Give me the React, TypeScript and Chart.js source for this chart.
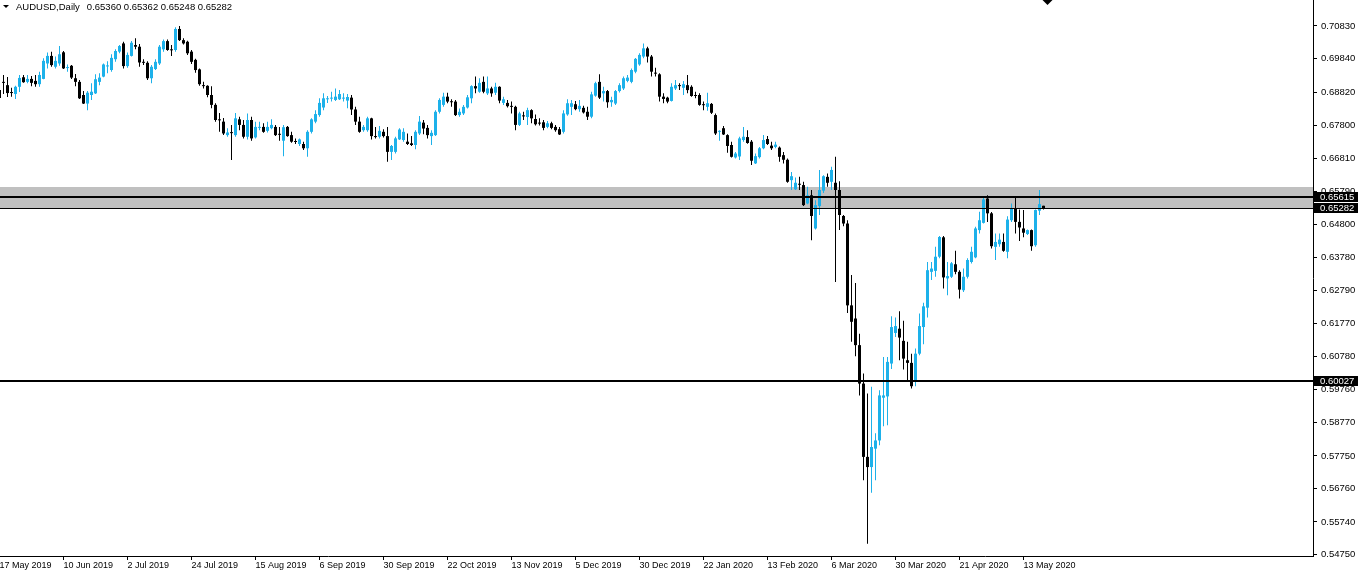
import { useEffect, useRef } from 'react';
import { Chart, registerables } from 'chart.js';

Chart.register(...registerables);

const symbolName = 'AUDUSD,Daily';
const lastBarValues = ['0.65360', '0.65362', '0.65248', '0.65282'];

const openPrices = [
  0.6888, 0.6913, 0.6903, 0.6881, 0.6876, 0.6898, 0.6927, 0.6913, 0.6922, 0.6916,
  0.6906, 0.6922, 0.6969, 0.6992, 0.6959, 0.6969, 0.7003, 0.6955, 0.6962, 0.6924,
  0.6913, 0.6873, 0.6847, 0.6873, 0.6878, 0.6913, 0.6929, 0.6960, 0.6949, 0.6982,
  0.7005, 0.7030, 0.6961, 0.6992, 0.7025, 0.7020, 0.6972, 0.6971, 0.6924, 0.6952,
  0.6969, 0.7012, 0.7037, 0.7011, 0.7010, 0.7074, 0.7040, 0.7035, 0.7005, 0.6980,
  0.6951, 0.6902, 0.6901, 0.6873, 0.6843, 0.6798, 0.6792, 0.6751, 0.6759, 0.6751,
  0.6799, 0.6782, 0.6746, 0.6797, 0.6744, 0.6773, 0.6776, 0.6764, 0.6772, 0.6776,
  0.6754, 0.6734, 0.6776, 0.6751, 0.6732, 0.6724, 0.6724, 0.6711, 0.6761, 0.6792,
  0.6812, 0.6835, 0.6860, 0.6862, 0.6858, 0.6860, 0.6862, 0.6856, 0.6865, 0.6829,
  0.6792, 0.6766, 0.6766, 0.6802, 0.6747, 0.6746, 0.6761, 0.6748, 0.6700, 0.6700,
  0.6738, 0.6736, 0.6731, 0.6726, 0.6721, 0.6756, 0.6789, 0.6773, 0.6748, 0.6751,
  0.6822, 0.6843, 0.6868, 0.6854, 0.6853, 0.6812, 0.6817, 0.6835, 0.6863, 0.6900,
  0.6883, 0.6913, 0.6878, 0.6893, 0.6880, 0.6898, 0.6849, 0.6849, 0.6839, 0.6837,
  0.6782, 0.6810, 0.6806, 0.6827, 0.6800, 0.6788, 0.6790, 0.6776, 0.6787, 0.6776,
  0.6769, 0.6761, 0.6814, 0.6837, 0.6845, 0.6830, 0.6834, 0.6822, 0.6807, 0.6871,
  0.6913, 0.6878, 0.6885, 0.6851, 0.6847, 0.6885, 0.6893, 0.6916, 0.6913, 0.6944,
  0.6966, 0.6990, 0.7015, 0.6990, 0.6940, 0.6936, 0.6868, 0.6865, 0.6855, 0.6893,
  0.6902, 0.6895, 0.6903, 0.6898, 0.6872, 0.6873, 0.6843, 0.6837, 0.6846, 0.6812,
  0.6761, 0.6772, 0.6751, 0.6721, 0.6683, 0.6686, 0.6736, 0.6745, 0.6731, 0.6665,
  0.6684, 0.6711, 0.6739, 0.6719, 0.6715, 0.6713, 0.6690, 0.6676, 0.6614, 0.6586,
  0.6602, 0.6599, 0.6543, 0.6568, 0.6467, 0.6535, 0.6582, 0.6624, 0.6609, 0.6606,
  0.6584, 0.6505, 0.6482, 0.6233, 0.6193, 0.6112, 0.5995, 0.5772, 0.5741, 0.5797,
  0.5822, 0.5952, 0.5956, 0.6056, 0.6149, 0.6162, 0.6125, 0.6066, 0.6058, 0.6005,
  0.6086, 0.6167, 0.6226, 0.6335, 0.6338, 0.6381, 0.6440, 0.6315, 0.6320, 0.6358,
  0.6335, 0.6279, 0.6320, 0.6365, 0.6379, 0.6462, 0.6484, 0.6558, 0.6513, 0.6411,
  0.6419, 0.6426, 0.6396, 0.6492, 0.6528, 0.6487, 0.6467, 0.6450, 0.6462, 0.6416,
  0.6521, 0.6536,
];

const highPrices = [
  0.6897, 0.6934, 0.6928, 0.6895, 0.6901, 0.6934, 0.6934, 0.6934, 0.6931, 0.6934,
  0.6944, 0.6985, 0.7002, 0.7005, 0.6990, 0.7022, 0.7007, 0.6966, 0.6964, 0.6937,
  0.6919, 0.6885, 0.6885, 0.6909, 0.6936, 0.6939, 0.6969, 0.6976, 0.6997, 0.7012,
  0.7025, 0.7035, 0.7002, 0.7037, 0.7046, 0.7028, 0.6982, 0.6976, 0.6964, 0.6982,
  0.7025, 0.7042, 0.7042, 0.7025, 0.7079, 0.7083, 0.7046, 0.7038, 0.7010, 0.6983,
  0.6954, 0.6913, 0.6903, 0.6900, 0.6848, 0.6818, 0.6803, 0.6772, 0.6782, 0.6818,
  0.6807, 0.6797, 0.6817, 0.6807, 0.6792, 0.6792, 0.6787, 0.6792, 0.6799, 0.6782,
  0.6776, 0.6782, 0.6779, 0.6761, 0.6741, 0.6741, 0.6731, 0.6766, 0.6802, 0.6827,
  0.6863, 0.6878, 0.6870, 0.6883, 0.6893, 0.6888, 0.6878, 0.6876, 0.6873, 0.6837,
  0.6807, 0.6782, 0.6807, 0.6804, 0.6776, 0.6779, 0.6769, 0.6776, 0.6721, 0.6746,
  0.6772, 0.6772, 0.6756, 0.6748, 0.6766, 0.6809, 0.6797, 0.6782, 0.6766, 0.6827,
  0.6863, 0.6880, 0.6880, 0.6860, 0.6858, 0.6832, 0.6843, 0.6873, 0.6903, 0.6929,
  0.6924, 0.6929, 0.6929, 0.6898, 0.6910, 0.6900, 0.6868, 0.6858, 0.6853, 0.6840,
  0.6822, 0.6822, 0.6834, 0.6830, 0.6814, 0.6802, 0.6797, 0.6794, 0.6792, 0.6782,
  0.6776, 0.6827, 0.6860, 0.6858, 0.6855, 0.6858, 0.6840, 0.6837, 0.6883, 0.6913,
  0.6936, 0.6898, 0.6888, 0.6868, 0.6888, 0.6909, 0.6929, 0.6934, 0.6954, 0.6986,
  0.7000, 0.7030, 0.7020, 0.6995, 0.6956, 0.6939, 0.6878, 0.6868, 0.6909, 0.6919,
  0.6909, 0.6916, 0.6934, 0.6903, 0.6883, 0.6878, 0.6853, 0.6880, 0.6849, 0.6817,
  0.6766, 0.6779, 0.6754, 0.6731, 0.6700, 0.6746, 0.6776, 0.6766, 0.6736, 0.6695,
  0.6715, 0.6751, 0.6748, 0.6731, 0.6731, 0.6716, 0.6700, 0.6680, 0.6639, 0.6622,
  0.6624, 0.6609, 0.6594, 0.6584, 0.6553, 0.6645, 0.6629, 0.6634, 0.6655, 0.6685,
  0.6611, 0.6508, 0.6492, 0.6325, 0.6301, 0.6147, 0.6026, 0.5965, 0.5985, 0.5844,
  0.5975, 0.6076, 0.6076, 0.6200, 0.6196, 0.6215, 0.6186, 0.6122, 0.6086, 0.6102,
  0.6208, 0.6241, 0.6365, 0.6365, 0.6411, 0.6444, 0.6444, 0.6365, 0.6365, 0.6399,
  0.6340, 0.6345, 0.6376, 0.6411, 0.6472, 0.6518, 0.6563, 0.6568, 0.6517, 0.6452,
  0.6452, 0.6452, 0.6504, 0.6543, 0.6565, 0.6525, 0.6523, 0.6464, 0.6464, 0.6525,
  0.6584, 0.65362,
];

const lowPrices = [
  0.6861, 0.6876, 0.6867, 0.6868, 0.6861, 0.6882, 0.6910, 0.6909, 0.6900, 0.6898,
  0.6898, 0.6921, 0.6954, 0.6959, 0.6954, 0.6962, 0.6952, 0.6944, 0.6922, 0.6900,
  0.6861, 0.6846, 0.6827, 0.6858, 0.6876, 0.6903, 0.6927, 0.6939, 0.6944, 0.6974,
  0.7000, 0.6954, 0.6956, 0.6990, 0.7012, 0.6959, 0.6964, 0.6919, 0.6909, 0.6949,
  0.6964, 0.7005, 0.7008, 0.6992, 0.7005, 0.7037, 0.7027, 0.6995, 0.6967, 0.6941,
  0.6901, 0.6893, 0.6866, 0.6833, 0.6792, 0.6761, 0.6751, 0.6746, 0.6675, 0.6746,
  0.6766, 0.6741, 0.6738, 0.6734, 0.6741, 0.6766, 0.6758, 0.6759, 0.6769, 0.6748,
  0.6734, 0.6687, 0.6746, 0.6728, 0.6724, 0.6718, 0.6706, 0.6685, 0.6756, 0.6787,
  0.6807, 0.6827, 0.6849, 0.6853, 0.6855, 0.6858, 0.6853, 0.6833, 0.6812, 0.6782,
  0.6758, 0.6761, 0.6761, 0.6738, 0.6741, 0.6741, 0.6744, 0.6670, 0.6675, 0.6695,
  0.6736, 0.6731, 0.6721, 0.6718, 0.6708, 0.6751, 0.6754, 0.6741, 0.6721, 0.6748,
  0.6817, 0.6837, 0.6848, 0.6837, 0.6809, 0.6807, 0.6812, 0.6832, 0.6848, 0.6878,
  0.6880, 0.6878, 0.6873, 0.6868, 0.6873, 0.6848, 0.6843, 0.6835, 0.6817, 0.6766,
  0.6779, 0.6797, 0.6782, 0.6787, 0.6780, 0.6780, 0.6766, 0.6772, 0.6769, 0.6761,
  0.6751, 0.6756, 0.6810, 0.6812, 0.6827, 0.6822, 0.6817, 0.6797, 0.6802, 0.6868,
  0.6861, 0.6853, 0.6834, 0.6837, 0.6843, 0.6881, 0.6888, 0.6912, 0.6909, 0.6939,
  0.6962, 0.6985, 0.6972, 0.6929, 0.6929, 0.6853, 0.6848, 0.6848, 0.6853, 0.6888,
  0.6888, 0.6873, 0.6878, 0.6868, 0.6863, 0.6840, 0.6827, 0.6825, 0.6815, 0.6751,
  0.6734, 0.6751, 0.6697, 0.6683, 0.6680, 0.6675, 0.6731, 0.6725, 0.6660, 0.6663,
  0.6680, 0.6708, 0.6721, 0.6706, 0.6711, 0.6670, 0.6665, 0.6606, 0.6584, 0.6584,
  0.6584, 0.6535, 0.6541, 0.6431, 0.6464, 0.6508, 0.6575, 0.6594, 0.6584, 0.6304,
  0.6462, 0.6474, 0.6210, 0.6122, 0.6078, 0.5959, 0.5701, 0.5508, 0.5663, 0.5701,
  0.5807, 0.5865, 0.5868, 0.6039, 0.6137, 0.6066, 0.6038, 0.6005, 0.5980, 0.5987,
  0.6081, 0.6115, 0.6196, 0.6310, 0.6320, 0.6376, 0.6284, 0.6264, 0.6316, 0.6328,
  0.6254, 0.6274, 0.6315, 0.6360, 0.6376, 0.6452, 0.6482, 0.6487, 0.6406, 0.6371,
  0.6411, 0.6396, 0.6376, 0.6487, 0.6452, 0.6429, 0.6440, 0.6447, 0.6399, 0.6411,
  0.6508, 0.65248,
];

const closePrices = [
  0.6864, 0.6910, 0.6879, 0.6879, 0.6898, 0.6925, 0.6912, 0.6922, 0.6910, 0.6906,
  0.6934, 0.6977, 0.6992, 0.6964, 0.6977, 0.6997, 0.6954, 0.6957, 0.6926, 0.6913,
  0.6863, 0.6847, 0.6880, 0.6883, 0.6921, 0.6926, 0.6966, 0.6962, 0.6986, 0.7007,
  0.7022, 0.6961, 0.6995, 0.7032, 0.7020, 0.6972, 0.6971, 0.6924, 0.6959, 0.6974,
  0.7020, 0.7037, 0.7010, 0.7009, 0.7074, 0.7040, 0.7030, 0.7000, 0.6974, 0.6949,
  0.6906, 0.6900, 0.6873, 0.6843, 0.6797, 0.6796, 0.6756, 0.6759, 0.6757, 0.6802,
  0.6782, 0.6746, 0.6797, 0.6741, 0.6776, 0.6775, 0.6761, 0.6776, 0.6782, 0.6751,
  0.6752, 0.6775, 0.6748, 0.6731, 0.6730, 0.6738, 0.6711, 0.6761, 0.6799, 0.6815,
  0.6849, 0.6863, 0.6862, 0.6864, 0.6868, 0.6876, 0.6864, 0.6867, 0.6829, 0.6792,
  0.6761, 0.6776, 0.6802, 0.6748, 0.6745, 0.6764, 0.6748, 0.6700, 0.6718, 0.6741,
  0.6768, 0.6761, 0.6724, 0.6721, 0.6761, 0.6792, 0.6771, 0.6751, 0.6758, 0.6822,
  0.6858, 0.6868, 0.6853, 0.6851, 0.6812, 0.6822, 0.6837, 0.6866, 0.6900, 0.6893,
  0.6910, 0.6883, 0.6893, 0.6878, 0.6898, 0.6856, 0.6860, 0.6839, 0.6837, 0.6782,
  0.6817, 0.6808, 0.6827, 0.6802, 0.6784, 0.6786, 0.6773, 0.6787, 0.6773, 0.6766,
  0.6753, 0.6817, 0.6848, 0.6848, 0.6830, 0.6840, 0.6820, 0.6807, 0.6875, 0.6909,
  0.6865, 0.6885, 0.6851, 0.6858, 0.6885, 0.6903, 0.6924, 0.6926, 0.6949, 0.6983,
  0.6995, 0.7015, 0.6990, 0.6944, 0.6938, 0.6868, 0.6861, 0.6853, 0.6898, 0.6903,
  0.6900, 0.6906, 0.6888, 0.6870, 0.6870, 0.6843, 0.6842, 0.6848, 0.6819, 0.6756,
  0.6763, 0.6753, 0.6718, 0.6685, 0.6695, 0.6741, 0.6746, 0.6727, 0.6673, 0.6687,
  0.6711, 0.6736, 0.6724, 0.6711, 0.6722, 0.6685, 0.6676, 0.6609, 0.6626, 0.6606,
  0.6600, 0.6538, 0.6568, 0.6505, 0.6538, 0.6584, 0.6626, 0.6606, 0.6645, 0.6584,
  0.6508, 0.6482, 0.6233, 0.6183, 0.6112, 0.5995, 0.5772, 0.5741, 0.5802, 0.5822,
  0.5959, 0.5959, 0.6061, 0.6167, 0.6170, 0.6135, 0.6071, 0.6058, 0.5987, 0.6086,
  0.6170, 0.6230, 0.6340, 0.6345, 0.6381, 0.6441, 0.6318, 0.6322, 0.6361, 0.6335,
  0.6281, 0.6320, 0.6371, 0.6396, 0.6467, 0.6492, 0.6555, 0.6513, 0.6413, 0.6426,
  0.6433, 0.6399, 0.6494, 0.6528, 0.6487, 0.6470, 0.6454, 0.6462, 0.6413, 0.6523,
  0.6541, 0.65282,
];

const dateLabelBars = [0, 16, 32, 48, 64, 80, 96, 112, 128, 144, 160, 176, 192, 208, 224, 240, 256];
const dateLabels = [
  '17 May 2019', '10 Jun 2019', '2 Jul 2019', '24 Jul 2019', '15 Aug 2019', '6 Sep 2019',
  '30 Sep 2019', '22 Oct 2019', '13 Nov 2019', '5 Dec 2019', '30 Dec 2019', '22 Jan 2020',
  '13 Feb 2020', '6 Mar 2020', '30 Mar 2020', '21 Apr 2020', '13 May 2020',
];

const priceTicks = [
  0.7083, 0.6984, 0.6882, 0.678, 0.6681, 0.6579, 0.648, 0.6378, 0.6279,
  0.6177, 0.6078, 0.5976, 0.5877, 0.5775, 0.5676, 0.5574, 0.5475,
];

const zoneTop = 0.6592;
const zoneBottom = 0.65282;
const levelLines = [0.65615, 0.60027];
const bidPrice = 0.65282;
const markerBar = 262;

const Y_MIN = 0.54704;
const Y_MAX = 0.71621;
const X_MIN = 0.125;
const X_MAX = 328.375;

const BULL = '#1DB1EA';
const BEAR = '#000000';
const FONT_FAMILY = "'Liberation Sans', Arial, sans-serif";

export default function App() {
  const ref = useRef<HTMLCanvasElement>(null);

  useEffect(() => {
    document.body.style.margin = '0';
    const canvas = ref.current;
    if (!canvas) return;
    const n = openPrices.length;
    const idx = Array.from({ length: n }, (_, i) => i);
    const colors = idx.map((i) => (closePrices[i] >= openPrices[i] ? BULL : BEAR));

    const overlay = {
      id: 'mt4overlay',
      beforeDatasetsDraw(chart: any) {
        const { ctx, chartArea, scales } = chart;
        const t = scales.y.getPixelForValue(zoneTop);
        const b = scales.y.getPixelForValue(zoneBottom);
        ctx.save();
        ctx.fillStyle = '#C0C0C0';
        ctx.fillRect(chartArea.left, Math.round(t), chartArea.right - chartArea.left, Math.round(b) - Math.round(t));
        ctx.restore();
      },
      afterDatasetsDraw(chart: any) {
        const { ctx, chartArea, scales } = chart;
        const w = chartArea.right - chartArea.left;
        ctx.save();
        ctx.fillStyle = '#000';
        levelLines.forEach((v) => {
          const py = Math.round(scales.y.getPixelForValue(v));
          ctx.fillRect(chartArea.left, py - 1, w, 2);
        });
        const by = Math.round(scales.y.getPixelForValue(bidPrice));
        ctx.fillRect(chartArea.left, by, w, 1);
        ctx.restore();
      },
      afterDraw(chart: any) {
        const { ctx, chartArea, scales } = chart;
        ctx.save();
        ctx.font = `9.5px ${FONT_FAMILY}`;
        ctx.textBaseline = 'middle';
        ctx.textAlign = 'left';
        [levelLines[0], bidPrice, levelLines[1]].forEach((v) => {
          const py = Math.round(scales.y.getPixelForValue(v));
          ctx.fillStyle = '#000';
          ctx.fillRect(chartArea.right + 1, py - 5, 45, 10);
          ctx.fillStyle = '#fff';
          ctx.fillText(v.toFixed(5), chartArea.right + 7, py + 0.5);
        });
        ctx.fillStyle = '#000';
        ctx.beginPath();
        ctx.moveTo(3, 5);
        ctx.lineTo(9, 5);
        ctx.lineTo(6, 8);
        ctx.closePath();
        ctx.fill();
        ctx.font = `9.5px ${FONT_FAMILY}`;
        ctx.fillText(symbolName, 16, 7.5);
        const nw = ctx.measureText(symbolName).width;
        ctx.fillText(lastBarValues.join(' '), 16 + nw + 7, 7.5);
        const mx = scales.x.getPixelForValue(markerBar);
        ctx.beginPath();
        ctx.moveTo(mx - 5, 0);
        ctx.lineTo(mx + 5, 0);
        ctx.lineTo(mx, 5);
        ctx.closePath();
        ctx.fill();
        ctx.restore();
      },
    };

    const chart = new Chart(canvas, {
      type: 'bar',
      data: {
        datasets: [
          {
            label: 'wicks',
            data: idx.map((i) => ({ x: i, y: [lowPrices[i], highPrices[i]] })) as any,
            backgroundColor: colors,
            barThickness: 1,
            grouped: false,
            inflateAmount: 0,
            borderWidth: 0,
            order: 2,
          } as any,
          {
            label: 'bodies',
            data: idx.map((i) => ({
              x: i,
              y: [Math.min(openPrices[i], closePrices[i]), Math.max(openPrices[i], closePrices[i])],
            })) as any,
            backgroundColor: colors,
            barThickness: 3,
            grouped: false,
            minBarLength: 1,
            inflateAmount: 0,
            borderWidth: 0,
            order: 1,
          } as any,
        ],
      },
      options: {
        responsive: false,
        maintainAspectRatio: false,
        animation: false,
        events: [],
        layout: { padding: 0 },
        plugins: {
          legend: { display: false },
          tooltip: { enabled: false },
          title: { display: false },
        },
        scales: {
          x: {
            type: 'linear',
            min: X_MIN,
            max: X_MAX,
            offset: false,
            afterFit: (s: any) => {
              s.height = 21;
              s.paddingLeft = 0;
              s.paddingRight = 0;
            },
            afterBuildTicks: (s: any) => {
              s.ticks = dateLabelBars.map((v) => ({ value: v }));
            },
            ticks: {
              autoSkip: false,
              maxRotation: 0,
              minRotation: 0,
              align: 'start',
              padding: 0,
              color: '#000',
              font: { family: FONT_FAMILY, size: 9 },
              callback: (_v: any, index: number) => dateLabels[index] ?? '',
            },
            grid: { offset: false, drawOnChartArea: false, drawTicks: true, tickLength: 4, color: '#000' },
            border: { display: true, color: '#000', width: 1 },
          } as any,
          y: {
            type: 'linear',
            position: 'right',
            min: Y_MIN,
            max: Y_MAX,
            afterFit: (s: any) => {
              s.width = 45;
              s.paddingTop = 0;
              s.paddingBottom = 0;
            },
            afterBuildTicks: (s: any) => {
              s.ticks = [...priceTicks].sort((a, b) => a - b).map((v) => ({ value: v }));
            },
            ticks: {
              autoSkip: false,
              padding: 4,
              color: '#000',
              font: { family: FONT_FAMILY, size: 9.5 },
              callback: (v: any) => Number(v).toFixed(5),
            },
            grid: { drawOnChartArea: false, drawTicks: true, tickLength: 4, color: '#000' },
            border: { display: true, color: '#000', width: 1 },
          } as any,
        },
      },
      plugins: [overlay],
    });

    return () => chart.destroy();
  }, []);

  return (
    <div style={{ width: 1358, height: 577, background: '#fff' }}>
      <canvas ref={ref} width={1358} height={577} style={{ display: 'block' }} />
    </div>
  );
}
